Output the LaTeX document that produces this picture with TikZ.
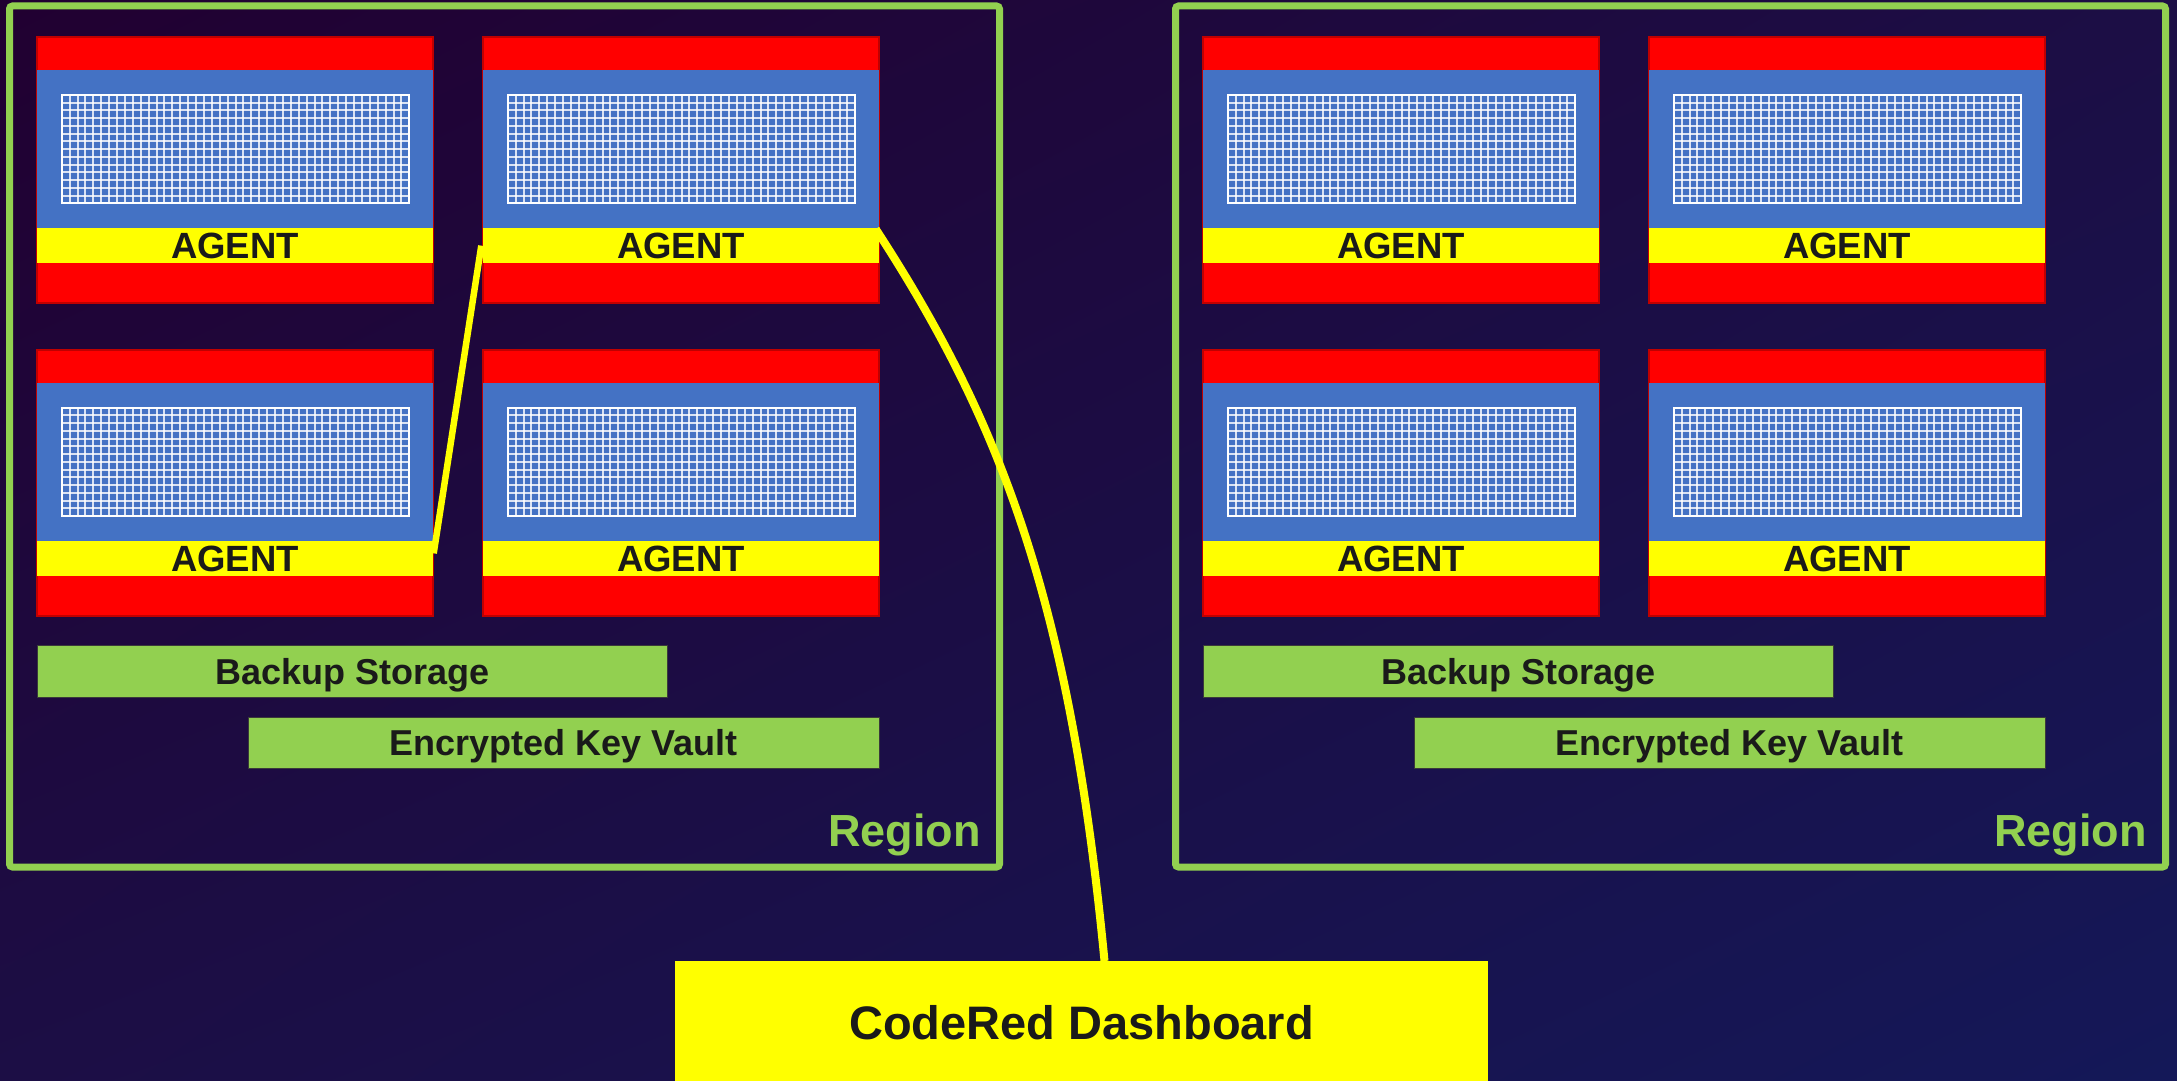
\documentclass[tikz,border=0pt]{standalone}
\usepackage{fontspec}
\setmainfont{Liberation Sans}
\usetikzlibrary{calc,shadings}
\definecolor{bgA}{HTML}{210031}
\definecolor{bgB}{HTML}{141858}
\definecolor{bgM}{HTML}{1C0E45}
\definecolor{rgreen}{HTML}{92D050}
\definecolor{agred}{HTML}{FF0000}
\definecolor{agdred}{HTML}{C00000}
\definecolor{agblue}{HTML}{4472C4}
\definecolor{agyel}{HTML}{FFFF00}
\definecolor{ink}{HTML}{1A1A1A}
\definecolor{boxline}{HTML}{3A3A3A}
\tikzset{
  regionbox/.style={draw=rgreen, line width=7pt, rounded corners=3pt, minimum width=990pt, minimum height=861pt, inner sep=0pt, outer sep=0pt},
  regionlabel/.style={anchor=base east, inner sep=0pt, text=rgreen, font=\bfseries\fontsize{45}{45}\selectfont},
  agentframe/.style={fill=agred, draw=agdred, line width=2pt, minimum width=395.4pt, minimum height=266pt, inner sep=0pt, outer sep=0pt},
  agband/.style={fill=agyel, minimum width=395.4pt, minimum height=35.3pt, inner sep=0pt, outer sep=0pt, text=ink, font=\bfseries\fontsize{36.5}{36.5}\selectfont, text height=26.1pt, text depth=0pt},
  gridbox/.style={draw=white, line width=2pt, minimum width=347.6pt, minimum height=108.3pt, inner sep=0pt, outer sep=0pt},
  gridline/.style={white, line width=2pt, opacity=0.8},
  storebox/.style={fill=rgreen, draw=boxline, line width=0.8pt, minimum width=630.5pt, minimum height=51.3pt, inner sep=0pt, outer sep=0pt, text=ink, font=\bfseries\fontsize{36}{36}\selectfont, text height=25.8pt, text depth=0pt},
  dashbox/.style={fill=agyel, minimum width=813pt, minimum height=123pt, inner sep=0pt, outer sep=0pt, text=ink, font=\bfseries\fontsize{47}{47}\selectfont, text height=33.7pt, text depth=0pt},
  conn/.style={draw=agyel}
}
\newcommand\agentunit[3]{%
  \node[agentframe] (#1) at ({#2+197.7},{#3+133}) {};
  \fill[agblue] ({#2},{#3+32.7}) rectangle ({#2+395.4},{#3+190.7});
  \node[agband] (#1y) at ({#2+197.7},{#3+208.35}) {AGENT};
  \foreach \i in {1,...,43} \draw[gridline] ({#2+24.4+\i*7.9},{#3+57.7}) -- ++(0,108.3);
  \foreach \j in {1,...,13} \draw[gridline] ({#2+24.4},{#3+57.7+\j*7.74}) -- ++(347.6,0);
  \node[gridbox] (#1g) at ({#2+198.2},{#3+111.85}) {};
}
\begin{document}
\begin{tikzpicture}[x=1pt,y=-1pt]
\useasboundingbox (0,0) rectangle (2177,1081);
\shade[upper left=bgA, lower right=bgB, upper right=bgM, lower left=bgM] (0,0) rectangle (2177,1081);
\clip (0,0) rectangle (2177,1081);

% regions
\node[regionbox] (LR) at (504.5,436.5) {};
\node[regionbox] (RR) at (1670.5,436.5) {};
\node[regionlabel] (LRl) at (981,846.7) {Region};
\node[regionlabel] (RRl) at (2147,846.7) {Region};

% agents, left region
\agentunit{L11}{37.3}{37.3}
\agentunit{L12}{483.3}{37.3}
\agentunit{L21}{37.3}{350}
\agentunit{L22}{483.3}{350}
% agents, right region
\agentunit{R11}{1203.3}{37.3}
\agentunit{R12}{1649.3}{37.3}
\agentunit{R21}{1203.3}{350}
\agentunit{R22}{1649.3}{350}

% storage
\node[storebox] (Lbk) at (352.4,671.25) {Backup Storage};
\node[storebox] (Lkv) at (563.7,743) {Encrypted Key Vault};
\node[storebox] (Rbk) at (1518.4,671.25) {Backup Storage};
\node[storebox] (Rkv) at (1729.7,743) {Encrypted Key Vault};

% dashboard
\node[dashbox] (dash) at (1081.5,1022.5) {CodeRed Dashboard};

% connectors
\draw[conn, line width=6.5pt] ($(L12y.west)+(-2,0)$) -- ($(L21y.east)+(1,-5)$);
\draw[conn, line width=8pt] ($(L12y.north east)+(-3,1)$) .. controls (1000,420) and (1070,600) .. ($(dash.north)+(23,0)$);
\end{tikzpicture}
\end{document}
